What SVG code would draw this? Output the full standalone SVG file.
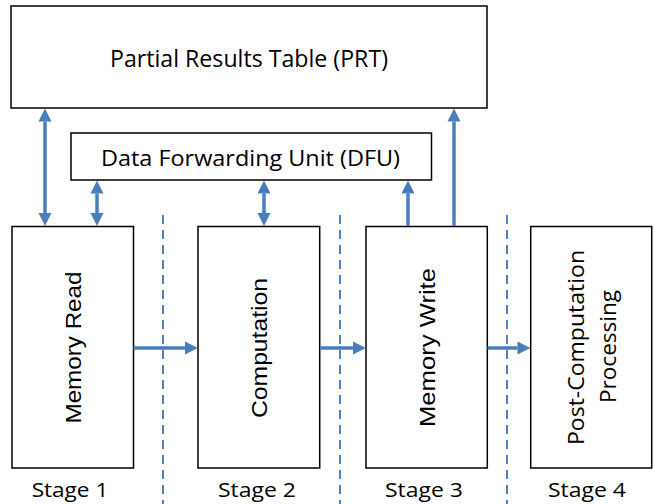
<svg xmlns="http://www.w3.org/2000/svg" width="654" height="504" viewBox="0 0 654 504">
<style>
.box{fill:#fff;stroke:#000;stroke-width:1.5}
.lbl{font-family:"Open Sans","Liberation Sans",sans-serif;fill:#000;text-anchor:middle}
.vl{font-family:"Liberation Sans",Arial,sans-serif;fill:#000;text-anchor:middle;font-size:22px}
.arr{stroke:#4a7ebb;stroke-width:3.5;fill:none}
.dash{stroke:#4f81bd;stroke-width:2;stroke-dasharray:9 6;fill:none}
</style>
<defs>
<marker id="ah" markerUnits="userSpaceOnUse" markerWidth="13" markerHeight="13" refX="0" refY="6.5" orient="auto-start-reverse" overflow="visible">
<path d="M0,0 L13,6.5 L0,13 z" fill="#4a7ebb"/>
</marker>
</defs>
<rect width="654" height="504" fill="#fff"/>
<g id="separators">
<line class="dash" x1="163" y1="215" x2="163" y2="504"/>
<line class="dash" x1="340" y1="215" x2="340" y2="504"/>
<line class="dash" x1="507" y1="215" x2="507" y2="504"/>
</g>
<g id="prt">
<rect class="box" x="11" y="6" width="476" height="102"/>
<text class="lbl" x="249" y="67" font-size="23" textLength="278" lengthAdjust="spacingAndGlyphs">Partial Results Table (PRT)</text>
</g>
<g id="dfu">
<rect class="box" x="71" y="133" width="360.5" height="47"/>
<text class="lbl" x="250.5" y="166" font-size="22" textLength="299" lengthAdjust="spacingAndGlyphs">Data Forwarding Unit (DFU)</text>
</g>
<g id="memread">
<rect class="box" x="12" y="226.5" width="121.5" height="241.5"/>
<text class="vl" transform="translate(81,347.5) rotate(-90)" textLength="152" lengthAdjust="spacingAndGlyphs">Memory Read</text>
</g>
<g id="computation">
<rect class="box" x="198" y="226.5" width="121.7" height="241.5"/>
<text class="vl" transform="translate(267,348) rotate(-90)" textLength="140" lengthAdjust="spacingAndGlyphs">Computation</text>
</g>
<g id="memwrite">
<rect class="box" x="366" y="226.5" width="121.3" height="241.5"/>
<text class="vl" transform="translate(435,347.5) rotate(-90)" textLength="159" lengthAdjust="spacingAndGlyphs">Memory Write</text>
</g>
<g id="postcomp">
<rect class="box" x="530.7" y="226.5" width="121" height="241.5"/>
<text class="lbl" font-size="21" transform="translate(584,347.5) rotate(-90)" textLength="195" lengthAdjust="spacingAndGlyphs">Post-Computation</text>
<text class="lbl" font-size="21" transform="translate(616,346.5) rotate(-90)" textLength="113" lengthAdjust="spacingAndGlyphs">Processing</text>
</g>
<g id="stages">
<text class="lbl" x="70" y="497" font-size="19.5" textLength="76.6" lengthAdjust="spacingAndGlyphs">Stage 1</text>
<text class="lbl" x="257" y="497" font-size="19.5" textLength="78" lengthAdjust="spacingAndGlyphs">Stage 2</text>
<text class="lbl" x="424" y="497" font-size="19.5" textLength="78" lengthAdjust="spacingAndGlyphs">Stage 3</text>
<text class="lbl" x="587" y="497" font-size="19.5" textLength="78" lengthAdjust="spacingAndGlyphs">Stage 4</text>
</g>
<g id="connectors">
<line class="arr" x1="45" y1="121.5" x2="45" y2="213" marker-start="url(#ah)" marker-end="url(#ah)"/>
<line class="arr" x1="97" y1="193.5" x2="97" y2="213" marker-start="url(#ah)" marker-end="url(#ah)"/>
<line class="arr" x1="264" y1="193.5" x2="264" y2="213" marker-start="url(#ah)" marker-end="url(#ah)"/>
<line class="arr" x1="408" y1="226" x2="408" y2="193.5" marker-end="url(#ah)"/>
<line class="arr" x1="454" y1="226" x2="454" y2="121.5" marker-end="url(#ah)"/>
<line class="arr" x1="133.5" y1="348" x2="185" y2="348" marker-end="url(#ah)"/>
<line class="arr" x1="320" y1="348" x2="353" y2="348" marker-end="url(#ah)"/>
<line class="arr" x1="487.5" y1="348" x2="517.5" y2="348" marker-end="url(#ah)"/>
</g>
</svg>
